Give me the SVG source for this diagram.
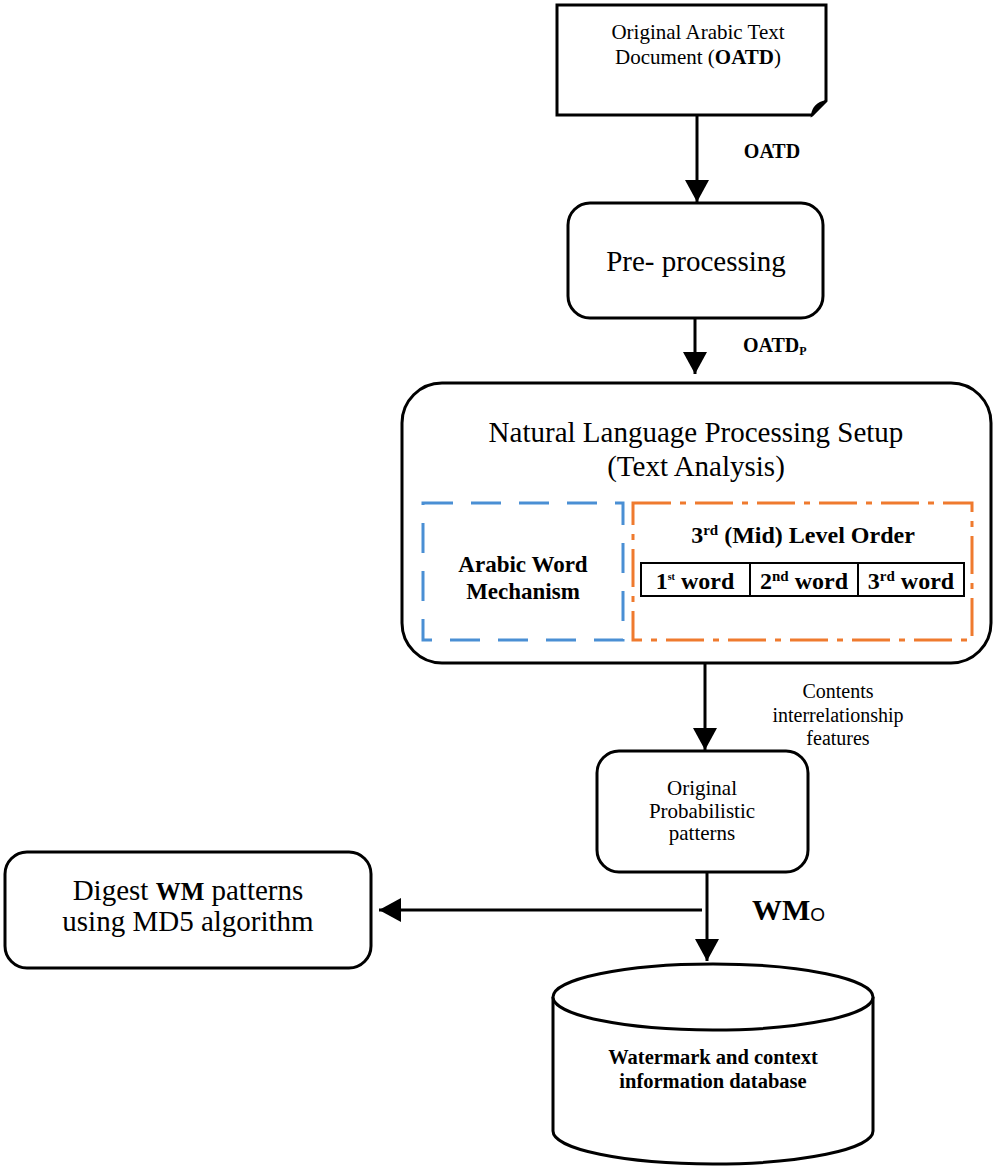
<svg xmlns="http://www.w3.org/2000/svg" width="995" height="1168" viewBox="0 0 995 1168">
<style>
.box{fill:#fff;stroke:#000;stroke-width:3}
.t{font-family:"Liberation Serif","Times New Roman",serif;fill:#000;text-anchor:middle}
.s{text-anchor:start}
.b{font-weight:bold}
.con{stroke:#000;stroke-width:3;fill:none}
</style>
<defs>
<marker id="ah" markerUnits="userSpaceOnUse" markerWidth="22" markerHeight="24" viewBox="0 0 22 24" refX="22" refY="12" orient="auto">
<path d="M0,0 L22,12 L0,24 Z" fill="#000"/>
</marker>
</defs>
<rect width="995" height="1168" fill="#fff"/>

<g id="connectors">
<line class="con" x1="697" y1="116" x2="697" y2="202" marker-end="url(#ah)"/>
<line class="con" x1="695" y1="318" x2="695" y2="374" marker-end="url(#ah)"/>
<line class="con" x1="705" y1="664" x2="705" y2="750" marker-end="url(#ah)"/>
<line class="con" x1="707" y1="872" x2="707" y2="961" marker-end="url(#ah)"/>
<line class="con" x1="702" y1="910" x2="379" y2="910" stroke-width="2.5" marker-end="url(#ah)"/>
<text class="t b" x="772" y="158" font-size="20">OATD</text>
<text class="t s b" x="743" y="352" font-size="20">OATD<tspan font-size="12" dy="3">P</tspan></text>
<text class="t" x="838" y="698" font-size="20">Contents</text>
<text class="t" x="838" y="722" font-size="20">interrelationship</text>
<text class="t" x="838" y="745" font-size="20">features</text>
<text class="t s b" x="752" y="920" font-size="30">WM<tspan font-weight="normal" font-family="Liberation Sans, Arial, sans-serif" font-size="19" dy="1">O</tspan></text>
</g>

<g id="doc">
<path class="box" d="M557,5 H826 V101 L812,115 H557 Z"/>
<path d="M812,115 C813,107 817,103 826,101 C820,106 817,110 812,115 Z" fill="#000" stroke="#000" stroke-width="2"/>
<text class="t" x="698" y="39" font-size="21">Original Arabic Text</text>
<text class="t" x="698" y="64" font-size="21">Document (<tspan font-weight="bold">OATD</tspan>)</text>
</g>

<g id="preprocessing">
<rect class="box" x="568" y="203" width="255" height="115" rx="22"/>
<text class="t" x="696" y="271" font-size="29">Pre- processing</text>
</g>

<g id="nlp">
<rect class="box" x="402" y="383" width="589" height="280" rx="40"/>
<text class="t" x="696" y="442" font-size="29">Natural Language Processing Setup</text>
<text class="t" x="696" y="476" font-size="29">(Text Analysis)</text>
<rect x="423" y="503" width="200" height="137" fill="none" stroke="#4a8fd4" stroke-width="3" stroke-dasharray="30 18"/>
<rect x="633" y="503" width="339" height="137" fill="none" stroke="#ef7a2e" stroke-width="3" stroke-dasharray="38 9 6 9"/>
<text class="t b" x="523" y="572" font-size="23">Arabic Word</text>
<text class="t b" x="523" y="599" font-size="23">Mechanism</text>
<text class="t b" x="803" y="543" font-size="24">3<tspan font-size="15" dy="-8">rd</tspan><tspan dy="8"> (Mid) Level Order</tspan></text>
<rect x="641" y="563" width="323" height="33" fill="#fff" stroke="#000" stroke-width="2"/>
<line x1="750" y1="563" x2="750" y2="596" stroke="#000" stroke-width="2"/>
<line x1="858" y1="563" x2="858" y2="596" stroke="#000" stroke-width="2"/>
<text class="t b" x="695" y="589" font-size="24">1<tspan font-size="10" dy="-9">st</tspan><tspan dy="9"> word</tspan></text>
<text class="t b" x="804" y="589" font-size="24">2<tspan font-size="15" dy="-8">nd</tspan><tspan dy="8"> word</tspan></text>
<text class="t b" x="911" y="589" font-size="24">3<tspan font-size="15" dy="-8">rd</tspan><tspan dy="8"> word</tspan></text>
</g>

<g id="probabilistic">
<rect class="box" x="597" y="751" width="211" height="121" rx="22"/>
<text class="t" x="702" y="795" font-size="21">Original</text>
<text class="t" x="702" y="818" font-size="21">Probabilistic</text>
<text class="t" x="702" y="840" font-size="21">patterns</text>
</g>

<g id="digest">
<rect class="box" x="5" y="852" width="366" height="116" rx="22"/>
<text class="t" x="188" y="900" font-size="29">Digest  <tspan font-weight="bold" font-size="25">WM</tspan> patterns</text>
<text class="t" x="188" y="931" font-size="29">using MD5 algorithm</text>
</g>

<g id="database">
<path class="box" d="M553,997 V1131 A160,33 0 0 0 873,1131 V997"/>
<ellipse class="box" cx="713" cy="997" rx="160" ry="33"/>
<text class="t b" x="713" y="1064" font-size="20.5">Watermark and context</text>
<text class="t b" x="713" y="1088" font-size="20.5">information database</text>
</g>
</svg>
